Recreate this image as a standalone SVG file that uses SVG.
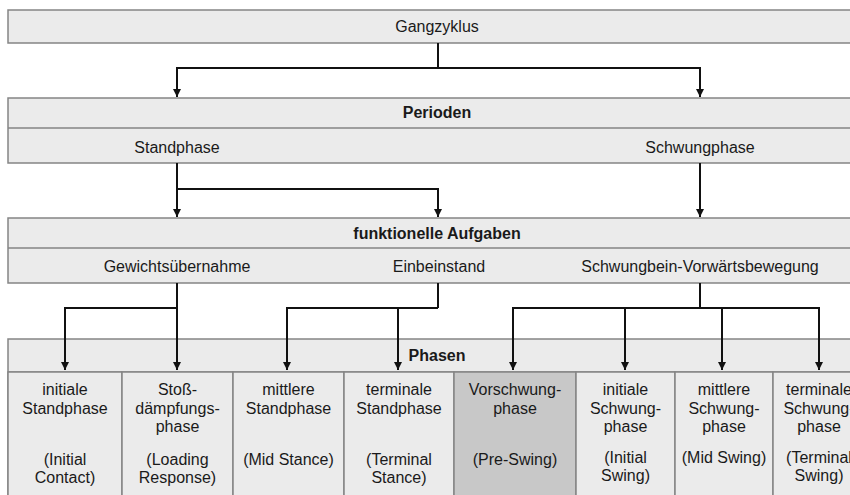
<svg xmlns="http://www.w3.org/2000/svg" width="850" height="495" viewBox="0 0 850 495">
<defs>
<style>
.bar{fill:#ebebeb;stroke:#858585;stroke-width:1.5}
.dark{fill:#c8c8c8;stroke:#858585;stroke-width:1.5}
.div{stroke:#858585;stroke-width:1.5;fill:none}
text{font-family:"Liberation Sans",Arial,sans-serif;font-size:16px;fill:#1a1a1a;text-anchor:middle}
.b{font-weight:bold}
.c line,.c path{stroke:#111;stroke-width:2;fill:none}
</style>
<marker id="ah" viewBox="0 0 10 10" refX="10" refY="5" markerWidth="9" markerHeight="8" markerUnits="userSpaceOnUse" orient="auto">
<path d="M0,0 L10,5 L0,10 Z" fill="#111"/>
</marker>
</defs>
<rect width="850" height="495" fill="#fff"/>

<g id="gangzyklus">
<rect class="bar" x="8" y="10" width="850" height="33"/>
<text x="437" y="32">Gangzyklus</text>
</g>

<g id="perioden">
<rect class="bar" x="8" y="98" width="850" height="65"/>
<line class="div" x1="8" y1="128" x2="850" y2="128"/>
<text class="b" x="437" y="118">Perioden</text>
</g>
<g id="standphase"><text x="177" y="153">Standphase</text></g>
<g id="schwungphase"><text x="700" y="153">Schwungphase</text></g>

<g id="aufgaben">
<rect class="bar" x="8" y="218" width="850" height="65"/>
<line class="div" x1="8" y1="248" x2="850" y2="248"/>
<text class="b" x="437" y="239">funktionelle Aufgaben</text>
</g>
<g id="gewicht"><text x="177" y="272">Gewichtsübernahme</text></g>
<g id="einbein"><text x="439" y="272">Einbeinstand</text></g>
<g id="schwungbein"><text x="700" y="272">Schwungbein-Vorwärtsbewegung</text></g>

<g id="phasen">
<rect class="bar" x="8" y="339" width="850" height="170"/>
<line class="div" x1="8" y1="372" x2="850" y2="372"/>
<text class="b" x="437" y="361">Phasen</text>
</g>
<g id="p1"><rect class="bar" x="8" y="372" width="114" height="130"/>
<text x="65" y="395">initiale</text><text x="65" y="414">Standphase</text><text x="65" y="465">(Initial</text><text x="65" y="483">Contact)</text></g>
<g id="p2"><rect class="bar" x="122" y="372" width="111" height="130"/>
<text x="177.5" y="395">Stoß-</text><text x="177.5" y="414">dämpfungs-</text><text x="177.5" y="432">phase</text><text x="177.5" y="465">(Loading</text><text x="177.5" y="483">Response)</text></g>
<g id="p3"><rect class="bar" x="233" y="372" width="111" height="130"/>
<text x="288.5" y="395">mittlere</text><text x="288.5" y="414">Standphase</text><text x="288.5" y="465">(Mid Stance)</text></g>
<g id="p4"><rect class="bar" x="344" y="372" width="110" height="130"/>
<text x="399" y="395">terminale</text><text x="399" y="414">Standphase</text><text x="399" y="465">(Terminal</text><text x="399" y="483">Stance)</text></g>
<g id="p5"><rect class="dark" x="454" y="372" width="122" height="130"/>
<text x="515" y="395">Vorschwung-</text><text x="515" y="414">phase</text><text x="515" y="465">(Pre-Swing)</text></g>
<g id="p6"><rect class="bar" x="576" y="372" width="99" height="130"/>
<text x="625.5" y="395">initiale</text><text x="625.5" y="414">Schwung-</text><text x="625.5" y="432">phase</text><text x="625.5" y="463">(Initial</text><text x="625.5" y="481">Swing)</text></g>
<g id="p7"><rect class="bar" x="675" y="372" width="98" height="130"/>
<text x="724" y="395">mittlere</text><text x="724" y="414">Schwung-</text><text x="724" y="432">phase</text><text x="724" y="463">(Mid Swing)</text></g>
<g id="p8"><rect class="bar" x="773" y="372" width="90" height="130"/>
<text x="819" y="395">terminale</text><text x="819" y="414">Schwung-</text><text x="819" y="432">phase</text><text x="819" y="463">(Terminal</text><text x="819" y="481">Swing)</text></g>

<g id="connectors" class="c">
<line x1="438" y1="43" x2="438" y2="68"/>
<path d="M438,68 H177 V97" marker-end="url(#ah)"/>
<path d="M438,68 H700 V97" marker-end="url(#ah)"/>

<path d="M177,163 V217" marker-end="url(#ah)"/>
<path d="M177,189 H438 V217" marker-end="url(#ah)"/>
<path d="M700,163 V217" marker-end="url(#ah)"/>

<line x1="177" y1="283" x2="177" y2="308"/>
<path d="M177,308 H65 V370" marker-end="url(#ah)"/>
<path d="M177,308 V370" marker-end="url(#ah)"/>

<line x1="438" y1="283" x2="438" y2="308"/>
<path d="M438,308 H287 V370" marker-end="url(#ah)"/>
<path d="M398,308 V370" marker-end="url(#ah)"/>

<line x1="700" y1="283" x2="700" y2="308"/>
<path d="M700,308 H513 V370" marker-end="url(#ah)"/>
<path d="M700,308 H819 V370" marker-end="url(#ah)"/>
<path d="M625,308 V370" marker-end="url(#ah)"/>
<path d="M722,308 V370" marker-end="url(#ah)"/>
</g>
</svg>
